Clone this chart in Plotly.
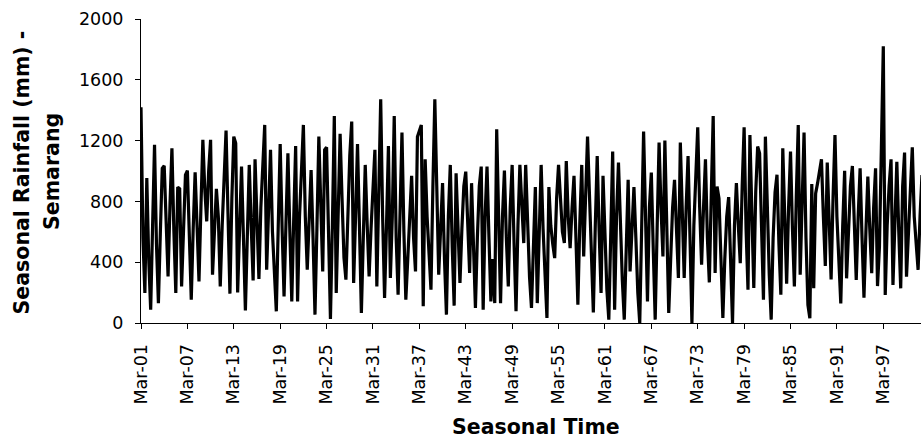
import plotly.graph_objects as go

# Season labels: quarter month names and years (1901 onwards)
months = ["Mar", "Jun", "Sep", "Dec"]
years = list(range(1901, 2003))
season_labels = [f"{m}-{y % 100:02d}" for y in years for m in months]

# Seasonal rainfall (mm) for Semarang
rainfall = [
    1420, 560, 197, 953, 420, 88, 640, 1172, 520, 131, 590, 1018, 1034, 640, 307, 780,
    1150, 610, 197, 894, 883, 241, 700, 975, 1003, 560, 153, 620, 992, 640, 274, 760,
    1205, 880, 668, 1000, 1205, 318, 600, 883, 700, 241, 640, 980, 1266, 720, 193, 820,
    1226, 1183, 201, 620, 1029, 560, 83, 570, 1040, 640, 280, 1077, 690, 289, 760, 1100,
    1303, 350, 760, 1139, 600, 300, 77, 640, 1178, 620, 175, 660, 1117, 600, 142, 680,
    1165, 142, 700, 1000, 1303, 700, 350, 680, 1007, 560, 55, 620, 1226, 780, 339, 1139,
    1156, 600, 26, 640, 1362, 197, 760, 1244, 820, 430, 285, 700, 1100, 1325, 263, 700,
    1178, 640, 66, 560, 1040, 650, 307, 620, 900, 1139, 241, 820, 1472, 700, 164, 640,
    1165, 296, 700, 1362, 560, 186, 700, 1253, 600, 153, 420, 720, 968, 560, 339, 1226,
    1270, 1303, 110, 1077, 700, 450, 219, 900, 1472, 900, 318, 620, 920, 420, 55, 700,
    1040, 500, 114, 985, 640, 263, 620, 900, 996, 600, 329, 920, 480, 99, 560, 900,
    1029, 88, 700, 1029, 560, 142, 420, 131, 1275, 620, 131, 700, 1003, 560, 241, 760,
    1040, 520, 77, 640, 1040, 780, 526, 1040, 620, 300, 99, 560, 894, 131, 640, 1040,
    620, 300, 33, 894, 640, 520, 427, 820, 1040, 820, 600, 526, 1066, 700, 493, 760,
    968, 560, 120, 660, 1040, 438, 900, 1226, 840, 420, 70, 640, 1099, 600, 197, 968,
    560, 220, 22, 600, 1128, 88, 700, 1055, 620, 280, 22, 560, 942, 339, 660, 894,
    560, 200, 0, 700, 1259, 700, 142, 760, 990, 480, 22, 620, 1187, 760, 438, 1200,
    620, 66, 420, 760, 942, 560, 296, 1187, 640, 296, 760, 1099, 560, 0, 640, 1000,
    1288, 760, 383, 760, 1077, 560, 267, 840, 1362, 329, 898, 820, 420, 33, 420, 700,
    828, 400, 0, 640, 920, 640, 394, 900, 1288, 620, 219, 1237, 620, 230, 860, 1161,
    1117, 560, 153, 1226, 720, 320, 22, 560, 860, 975, 520, 186, 1150, 600, 258, 760,
    1128, 620, 241, 840, 1303, 318, 900, 1253, 560, 120, 31, 915, 228, 853, 920, 1000,
    1077, 700, 375, 1055, 640, 287, 820, 1237, 700, 400, 129, 640, 1002, 294, 640, 900,
    1033, 620, 283, 700, 1018, 560, 167, 600, 963, 620, 327, 760, 1018, 243, 500, 1150,
    1820, 184, 640, 900, 1077, 250, 700, 1061, 600, 228, 900, 1121, 305, 620, 900, 1156,
    700, 500, 349, 700, 974, 650,
]

# Axis ticks
y_ticks = [0, 400, 800, 1200, 1600, 2000]
x_tick_step = 24  # one label every six years

# Sequential season position of every value (category index on the time axis)
season_index = list(range(len(rainfall)))
hover_labels = season_labels[:len(rainfall)]
x_tick_vals = season_index[::x_tick_step][:17]
x_tick_text = [season_labels[i] for i in x_tick_vals]

fig = go.Figure()
fig.add_trace(go.Scatter(
    x=season_index, y=rainfall, mode="lines",
    text=hover_labels,
    line=dict(color="black", width=3.2),
    hoverinfo="text+y", showlegend=False,
))

tick_font = dict(family="DejaVu Sans", size=17.5, color="black")
title_font = dict(family="DejaVu Sans", size=20.5, color="black", weight="bold")

fig.update_layout(
    width=921, height=440,
    margin=dict(l=141, r=0, t=19, b=117, pad=0),
    paper_bgcolor="white", plot_bgcolor="white",
    showlegend=False,
    xaxis=dict(
        range=[0, 403.5],
        tickmode="array", tickvals=x_tick_vals, ticktext=x_tick_text,
        tickangle=-90, ticks="outside", ticklen=5, tickwidth=1, tickcolor="black",
        showline=True, linecolor="black", linewidth=1,
        showgrid=False, zeroline=False, tickfont=tick_font,
        ticklabelstandoff=8,
    ),
    yaxis=dict(
        range=[0, 2000], tickmode="array", tickvals=y_ticks,
        ticks="outside", ticklen=5, tickwidth=1, tickcolor="black",
        showline=True, linecolor="black", linewidth=1,
        showgrid=False, zeroline=False, tickfont=tick_font,
        ticklabelstandoff=8,
    ),
    annotations=[
        dict(text="Seasonal Rainfall (mm) -", xref="paper", yref="paper",
             x=(21.5 - 141) / 780, y=0.497, textangle=-90,
             xanchor="center", yanchor="middle", showarrow=False, font=title_font),
        dict(text="Semarang", xref="paper", yref="paper",
             x=(52 - 141) / 780, y=0.497, textangle=-90,
             xanchor="center", yanchor="middle", showarrow=False, font=title_font),
        dict(text="Seasonal Time", xref="paper", yref="paper",
             x=(536 - 141) / 780, y=(323 - 427) / 304,
             xanchor="center", yanchor="middle", showarrow=False, font=title_font),
    ],
)

fig.write_html("out.html")
